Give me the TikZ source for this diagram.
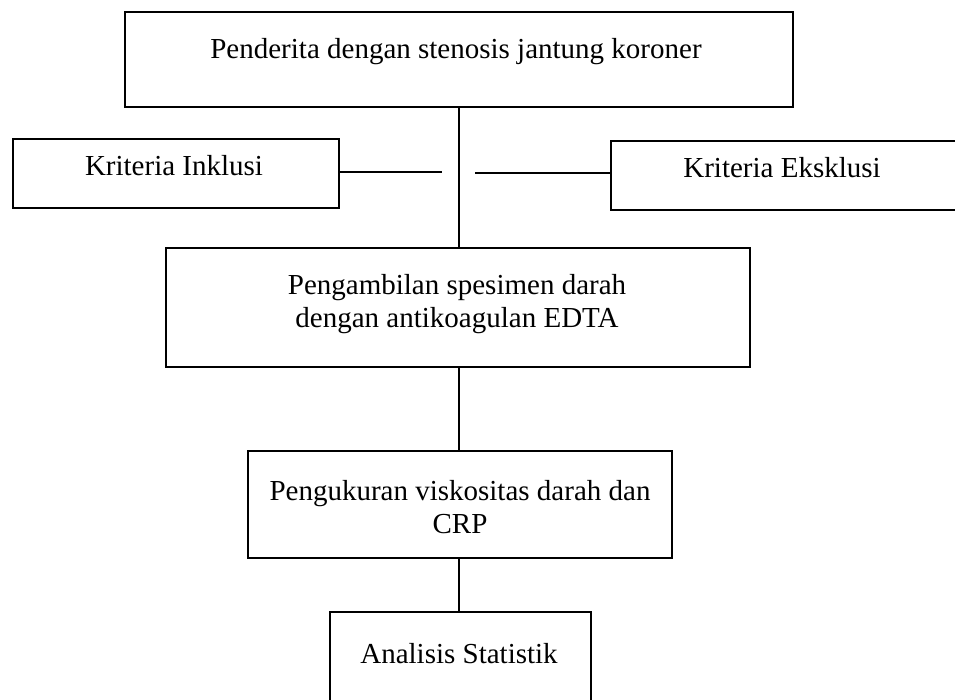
\documentclass[tikz,border=0pt]{standalone}
\usepackage{fontspec}
\setmainfont{Liberation Serif}
\begin{document}
\begin{tikzpicture}[x=1pt,y=-1pt,
  box/.style={draw, line width=1.6pt, inner sep=0pt, anchor=north west},
  txt/.style={font=\fontsize{29}{33}\selectfont, align=center, inner sep=0pt},
  conn/.style={line width=1.6pt}]
\useasboundingbox (0,0) rectangle (955,700);
\clip (0,0) rectangle (955,700);
% boxes
\node[box, minimum width=668pt, minimum height=95pt] (b1) at (124,11) {};
\node[box, minimum width=326pt, minimum height=69pt] (inc) at (12,138) {};
\node[box, minimum width=360pt, minimum height=69pt] (exc) at (610,140) {};
\node[box, minimum width=584pt, minimum height=119pt] (b2) at (165,247) {};
\node[box, minimum width=424pt, minimum height=107pt] (b3) at (247,450) {};
\node[box, minimum width=261pt, minimum height=110pt] (b4) at (329,611) {};
% texts
\node[txt] (t1) at (456,52) {Penderita dengan stenosis jantung koroner};
\node[txt] (tinc) at (174,166) {Kriteria Inklusi};
\node[txt] (texc) at (782,168) {Kriteria Eksklusi};
\node[txt] (t2) at (457,304) {Pengambilan spesimen darah\\ dengan antikoagulan EDTA};
\node[txt] (t3) at (460,507) {Pengukuran viskositas darah dan\\CRP};
\node[txt] (t4) at (459,654) {Analisis Statistik};
% connectors
\coordinate (sx) at (459,0);
\coordinate (incend) at (442,172);
\coordinate (excstart) at (475,173);
\draw[conn] (b1.south -| sx) -- (b2.north -| sx);
\draw[conn] (b2.south -| sx) -- (b3.north -| sx);
\draw[conn] (b3.south -| sx) -- (b4.north -| sx);
\draw[conn] (inc.east |- incend) -- (incend);
\draw[conn] (excstart) -- (exc.west |- excstart);
\end{tikzpicture}
\end{document}
